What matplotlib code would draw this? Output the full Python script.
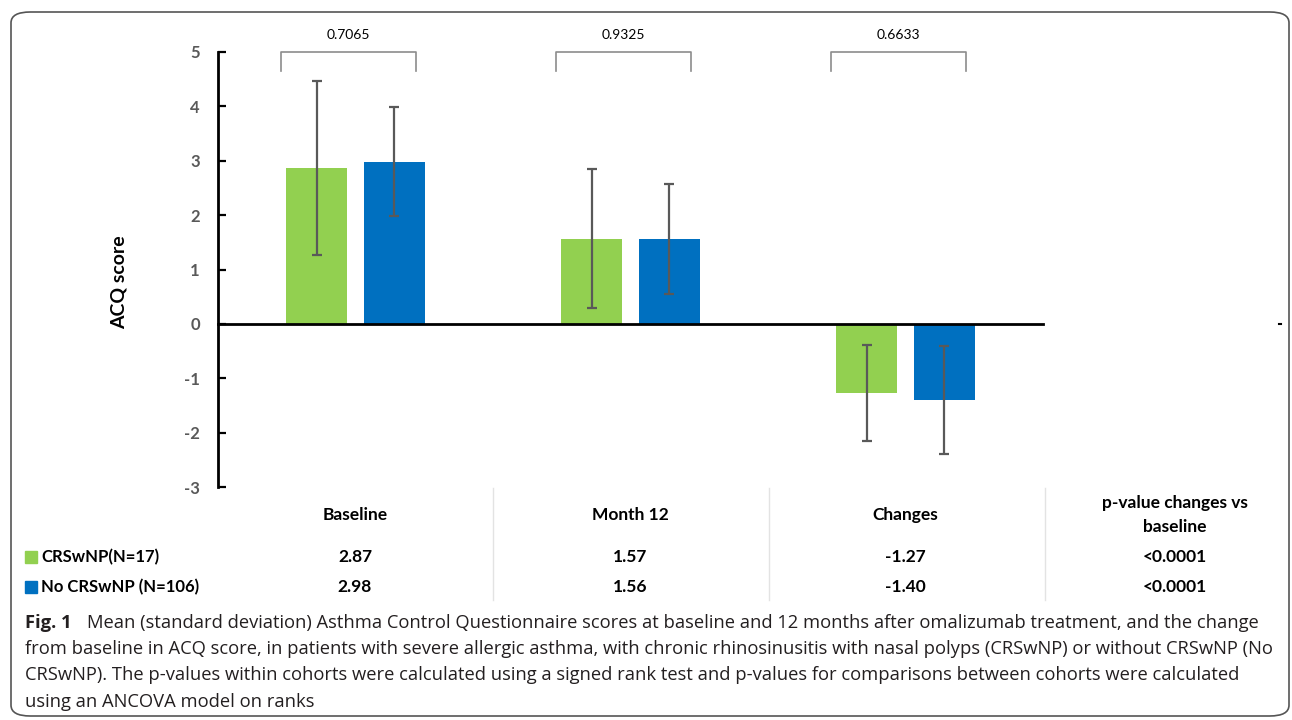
import matplotlib.pyplot as plt
from matplotlib.patches import FancyBboxPatch, Rectangle
import numpy as np

# data
groups = ['Baseline', 'Month 12', 'Changes']
crs_mean = [2.87, 1.57, -1.27]
crs_sd = [1.60, 1.28, 0.88]
no_crs_mean = [2.98, 1.56, -1.40]
no_crs_sd = [1.00, 1.01, 1.00]
p_between = ['0.7065', '0.9325', '0.6633']
p_within = ['<0.0001', '<0.0001']
series_names = ['CRSwNP(N=17)', 'No CRSwNP (N=106)']
table_header = ['Baseline', 'Month 12', 'Changes', 'p-value changes vs\nbaseline']
yticks = [-3, -2, -1, 0, 1, 2, 3, 4, 5]

caption = [
    'Mean (standard deviation) Asthma Control Questionnaire scores at baseline and 12 months after omalizumab treatment, and the change',
    'from baseline in ACQ score, in patients with severe allergic asthma, with chronic rhinosinusitis with nasal polyps (CRSwNP) or without CRSwNP (No',
    'CRSwNP). The p-values within cohorts were calculated using a signed rank test and p-values for comparisons between cohorts were calculated',
    'using an ANCOVA model on ranks',
]

GREEN = '#92D050'
BLUE = '#0070C0'
GREY = '#595959'
W, H = 1292, 720
chart_font = 'Lato'
cap_font = 'Open Sans'
plt.rcParams['axes.unicode_minus'] = False


def fx(px):
    return px / W


def fy(py):
    return 1 - py / H


fig = plt.figure(figsize=(W / 100, H / 100), dpi=100)

# rounded frame around the whole figure
frame = FancyBboxPatch((fx(11), fy(716)), fx(1278), 704 / H,
                       boxstyle='round,pad=0,rounding_size=0.015',
                       transform=fig.transFigure, fill=False,
                       edgecolor='#555555', linewidth=1.2)
fig.patches.append(frame)

ax = fig.add_axes([fx(218), fy(487), fx(825), 435 / H])
x = np.arange(len(groups))
bw = 0.222
off = 0.141

ax.bar(x - off, crs_mean, bw, color=GREEN, zorder=2)
ax.bar(x + off, no_crs_mean, bw, color=BLUE, zorder=2)
ax.errorbar(x - off, crs_mean, yerr=crs_sd, fmt='none', ecolor=GREY,
            elinewidth=1.6, capsize=3.5, capthick=1.6, zorder=3)
ax.errorbar(x + off, no_crs_mean, yerr=no_crs_sd, fmt='none', ecolor=GREY,
            elinewidth=1.6, capsize=3.5, capthick=1.6, zorder=3)

# brackets with between-cohort p-values
for i, p in enumerate(p_between):
    x0, x1 = i - 0.27, i + 0.22
    ax.plot([x0, x0, x1, x1], [4.65, 5.0, 5.0, 4.65], color='#8c8c8c',
            lw=1.2, clip_on=False, solid_joinstyle='round')
    ax.text((x0 + x1) / 2, 5.31, p, ha='center', va='center', fontsize=10,
            family=chart_font, color='black')

ax.set_xlim(-0.5, 2.5)
ax.set_ylim(-3, 5)
ax.set_yticks(yticks)
ax.set_xticks([])
for s in ['top', 'right']:
    ax.spines[s].set_visible(False)
ax.spines['left'].set_linewidth(2)
ax.spines['bottom'].set_linewidth(2)
ax.spines['bottom'].set_position(('data', 0))
ax.tick_params(axis='y', direction='in', length=6, width=1.6, pad=13,
               labelsize=12, labelcolor=GREY)
for lab in ax.get_yticklabels():
    lab.set_fontweight('bold')
    lab.set_family(chart_font)
ax.set_ylabel('ACQ score', fontsize=14, fontweight='bold', family=chart_font)
ax.yaxis.set_label_coords(fx(128 - 218) / fx(825), 0.47)

# stray dot at the far right of the zero line in the original
fig.add_artist(plt.Line2D([fx(1279), fx(1281)], [fy(324), fy(324)],
                          color='black', lw=1.5, transform=fig.transFigure))

# table under the chart
col_x = [355, 630, 905, 1175]
for cx, h in zip(col_x, table_header):
    fig.text(fx(cx), fy(515), h, ha='center', va='center', fontsize=12.5,
             fontweight='bold', family=chart_font, linespacing=1.6)
for sx in [493, 769, 1045]:
    fig.add_artist(plt.Line2D([fx(sx), fx(sx)], [fy(488), fy(600)],
                              color='#e3e3e3', lw=1, transform=fig.transFigure))

row_y = [557, 587]
row_means = [crs_mean, no_crs_mean]
for ry, name, col, means, pw in zip(row_y, series_names, [GREEN, BLUE],
                                    row_means, p_within):
    fig.patches.append(Rectangle((fx(25), fy(ry + 6)), fx(12), 12 / H,
                                 transform=fig.transFigure, color=col))
    fig.text(fx(41), fy(ry), name, ha='left', va='center', fontsize=12,
             fontweight='bold', family=chart_font)
    for cx, v in zip(col_x, list(means) + [None]):
        txt = '%.2f' % v if v is not None else pw
        fig.text(fx(cx), fy(ry), txt, ha='center', va='center', fontsize=12.5,
                 fontweight='bold', family=chart_font)

# caption
cap_y = [623, 649, 675, 702]
fig.text(fx(25), fy(cap_y[0]), 'Fig. 1', ha='left', va='center', fontsize=13.2,
         fontweight='bold', family=cap_font, color='#231f20')
for i, (line, ly) in enumerate(zip(caption, cap_y)):
    x0 = 87 if i == 0 else 25
    fig.text(fx(x0), fy(ly), line, ha='left', va='center', fontsize=13.2,
             family=cap_font, color='#231f20')

fig.savefig('out.png', dpi=100)
